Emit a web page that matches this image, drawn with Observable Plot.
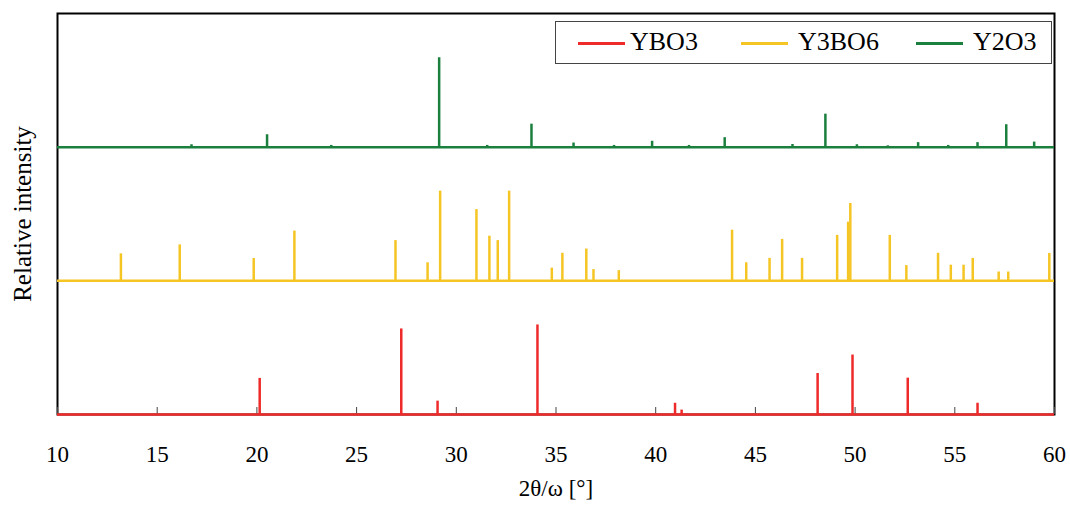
<!DOCTYPE html>
<html><head><meta charset="utf-8">
<script src="https://cdn.jsdelivr.net/npm/d3@7"></script>
<script src="https://cdn.jsdelivr.net/npm/@observablehq/plot@0.6"></script>
<style>
body{margin:0;background:#fff;}
#wrap{position:relative;width:1070px;height:505px;font-family:'Liberation Serif','DejaVu Serif',serif;}
.legend{position:absolute;left:555px;top:21px;width:497px;height:43px;border:1px solid #444;box-sizing:border-box;background:#fff;font-size:26px;color:#000;font-family:'Liberation Serif','DejaVu Serif',serif;}
.legend .sw{position:absolute;top:19.5px;width:47px;height:3px;}
.legend .lb{position:absolute;top:3px;line-height:34px;}
</style>
</head><body>
<div id="wrap"></div>
<script>
const seriesNames = ["YBO3", "Y3BO6", "Y2O3"];
const seriesColors = ["#ef2a2a", "#f5c524", "#1b7f3e"];
const seriesOffsets = [0, 100, 200];
const xTicks = [10, 15, 20, 25, 30, 35, 40, 45, 50, 55, 60];

const ybo3Pos = [20.14, 27.24, 29.06, 34.07, 40.97, 41.30, 48.12, 49.87, 52.64, 56.14];
const ybo3Int = [27, 64, 10, 67, 8.4, 3.3, 30.7, 44.5, 27.2, 8.4];

const y3bo6Pos = [13.18, 16.13, 19.84, 21.88, 26.95, 28.56, 29.19, 31.01, 31.66, 32.08, 32.65, 34.79, 35.32, 36.52, 36.88, 38.15, 43.83, 44.54, 45.71, 46.34, 47.34, 49.10, 49.65, 49.76, 51.74, 52.57, 54.16, 54.80, 55.44, 55.90, 57.20, 57.68, 59.74];
const y3bo6Int = [20.2, 26.9, 16.7, 37.2, 30.1, 13.5, 67.1, 53.3, 33.4, 30.1, 67.1, 9.5, 20.6, 23.8, 8.4, 7.6, 37.9, 13.5, 16.8, 31.0, 16.8, 34.0, 43.9, 57.9, 34.0, 11.4, 20.6, 11.7, 11.7, 16.8, 6.6, 6.6, 20.5];

const y2o3Pos = [16.72, 20.51, 23.73, 29.14, 31.55, 33.77, 35.88, 37.91, 39.82, 41.67, 43.46, 46.86, 48.51, 50.09, 51.64, 53.16, 54.67, 56.14, 57.58, 58.98];
const y2o3Int = [1.8, 9.3, 1.3, 66.9, 1.3, 17.2, 3.1, 1.3, 4.4, 1.3, 7.1, 2, 24.7, 1.8, 1, 3.4, 1.3, 3.4, 16.8, 3.8];

const positions = [ybo3Pos, y3bo6Pos, y2o3Pos];
const intensities = [ybo3Int, y3bo6Int, y2o3Int];

const peaks = [];
positions.forEach((ps, s) => ps.forEach((p, i) => peaks.push({series: s, x: p, base: seriesOffsets[s], top: seriesOffsets[s] + intensities[s][i]})));
const baselines = seriesOffsets.map((o, s) => ({series: s, y: o}));

const serif = "'Liberation Serif','DejaVu Serif',serif";
const chart = Plot.plot({
  width: 1070,
  height: 505,
  marginLeft: 57,
  marginRight: 16,
  marginTop: 13,
  marginBottom: 91,
  style: {fontFamily: serif, fontSize: "25px", color: "#000", background: "#fff"},
  x: {domain: [10, 60]},
  y: {domain: [0, 300]},
  marks: [
    Plot.frame({stroke: "#000", strokeWidth: 2}),
    Plot.axisX({ticks: xTicks, tickSize: -7, tickFormat: () => "", label: null, stroke: "#444"}),
    Plot.axisX({ticks: xTicks, tickSize: 0, tickPadding: 31, fontSize: 23, fontFamily: serif, label: "2θ/ω [°]", labelAnchor: "center", labelArrow: "none", labelOffset: 81}),
    Plot.axisY({ticks: [], tickSize: 0, label: "Relative intensity", labelAnchor: "center", labelArrow: "none", labelOffset: 44, fontSize: 25, fontFamily: serif}),
    ...[2, 1, 0].map(s => Plot.ruleY(baselines.filter(d => d.series === s), {y: "y", x1: 10, x2: 60, stroke: seriesColors[s], strokeWidth: 2.5})),
    ...[2, 1, 0].map(s => Plot.ruleX(peaks.filter(d => d.series === s), {x: "x", y1: "base", y2: "top", stroke: seriesColors[s], strokeWidth: 2.5}))
  ]
});
const wrap = document.getElementById("wrap");
wrap.appendChild(chart);

const legend = document.createElement("div");
legend.className = "legend";
const swLeft = [22, 185, 360];
const lbLeft = [74, 242, 417];
seriesNames.forEach((n, i) => {
  const sw = document.createElement("div");
  sw.className = "sw"; sw.style.left = swLeft[i] + "px"; sw.style.background = seriesColors[i];
  const lb = document.createElement("div");
  lb.className = "lb"; lb.style.left = lbLeft[i] + "px"; lb.textContent = n;
  legend.appendChild(sw); legend.appendChild(lb);
});
wrap.appendChild(legend);
</script>
</body></html>
